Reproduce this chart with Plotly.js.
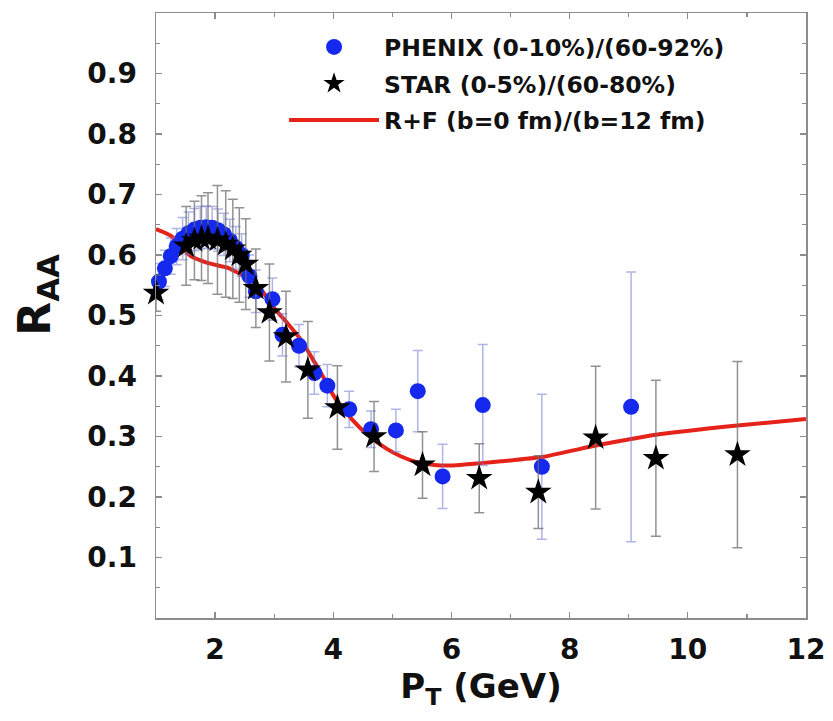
<!DOCTYPE html>
<html><head><meta charset="utf-8">
<script src="https://cdn.plot.ly/plotly-3.0.1.min.js"></script>
<style>html,body{margin:0;padding:0;background:#fff}#chart{width:833px;height:721px}</style>
</head><body><div id="chart"></div>
<script>
// PHENIX (0-10%)/(60-92%)
const phenixPt  = [1.05,1.15,1.25,1.35,1.45,1.55,1.65,1.75,1.85,1.95,2.05,2.15,2.25,2.35,2.45,2.58,2.69,2.97,3.14,3.42,3.68,3.90,4.27,4.64,5.06,5.43,5.85,6.53,7.53,9.04];
const phenixRaa = [0.556,0.578,0.598,0.614,0.627,0.636,0.642,0.645,0.646,0.645,0.641,0.634,0.624,0.612,0.600,0.565,0.540,0.527,0.468,0.450,0.405,0.384,0.345,0.312,0.310,0.375,0.234,0.352,0.250,0.349];
const phenixErr = [0.030,0.030,0.030,0.030,0.035,0.035,0.035,0.035,0.035,0.035,0.035,0.035,0.035,0.035,0.035,0.035,0.035,0.035,0.035,0.035,0.035,0.035,0.030,0.030,0.035,0.067,0.053,0.100,0.120,0.223];
// STAR (0-5%)/(60-80%)
const starPt  = [1.00,1.51,1.65,1.77,1.88,2.04,2.18,2.30,2.41,2.52,2.69,2.92,3.20,3.57,4.07,4.69,5.51,6.47,7.47,8.44,9.46,10.84];
const starRaa = [0.537,0.615,0.624,0.628,0.628,0.625,0.618,0.610,0.600,0.585,0.545,0.505,0.465,0.410,0.348,0.300,0.253,0.231,0.208,0.298,0.264,0.270];
const starErr = [0.030,0.065,0.065,0.070,0.075,0.090,0.088,0.082,0.078,0.075,0.065,0.080,0.075,0.080,0.069,0.058,0.055,0.057,0.060,0.118,0.129,0.154];
// R+F (b=0 fm)/(b=12 fm)
const modelPt  = [1.00,1.25,1.59,1.87,2.21,2.38,2.60,2.80,3.00,3.20,3.45,3.70,3.85,4.02,4.30,4.58,4.90,5.15,5.40,5.71,6.00,6.50,6.84,7.53,8.44,9.04,9.46,10.84,12.00];
const modelRaa = [0.643,0.632,0.598,0.587,0.579,0.571,0.560,0.540,0.512,0.490,0.460,0.420,0.395,0.365,0.330,0.303,0.280,0.267,0.258,0.253,0.252,0.256,0.259,0.266,0.285,0.296,0.303,0.318,0.329];

const xTickVals = [2,4,6,8,10,12];
const yTickVals = [0.1,0.2,0.3,0.4,0.5,0.6,0.7,0.8,0.9];
const yTickText = ['0.1','0.2','0.3','0.4','0.5','0.6','0.7','0.8','0.9'];

const FONT = 'DejaVu Sans, Liberation Sans, Arial, sans-serif';
const frame = '#8c8c8c';

const traces = [
  {
    x: modelPt, y: modelRaa, type: 'scatter', mode: 'lines',
    name: 'R+F (b=0 fm)/(b=12 fm)', legendrank: 3, legendgroup: 'c',
    line: {color: '#e5231b', width: 4, shape: 'spline', smoothing: 0.5}
  },
  {
    x: phenixPt, y: phenixRaa, type: 'scatter', mode: 'markers',
    name: 'PHENIX (0-10%)/(60-92%)', legendrank: 1, legendgroup: 'a', cliponaxis: false,
    marker: {color: '#1428ee', size: 16, symbol: 'circle'},
    error_y: {type: 'data', array: phenixErr, visible: true, color: 'rgba(110,120,210,0.55)', thickness: 1.5, width: 5}
  },
  {
    x: starPt, y: starRaa, type: 'scatter', mode: 'markers',
    name: 'STAR (0-5%)/(60-80%)', legendrank: 2, legendgroup: 'b', cliponaxis: false,
    marker: {color: '#000000', size: 20, symbol: 'star'},
    error_y: {type: 'data', array: starErr, visible: true, color: 'rgba(110,110,110,0.75)', thickness: 1.5, width: 5}
  }
];

const layout = {
  width: 833, height: 721,
  margin: {l: 156, r: 27, t: 13, b: 103},
  paper_bgcolor: '#ffffff', plot_bgcolor: '#ffffff',
  font: {family: FONT, color: '#111111'},
  showlegend: true,
  legend: {
    x: 0.197, y: 0.98, xanchor: 'left', yanchor: 'top',
    bgcolor: 'rgba(0,0,0,0)', borderwidth: 0,
    font: {family: FONT, size: 23.5, weight: 'bold', color: '#111'},
    tracegroupgap: 3, itemwidth: 90
  },
  xaxis: {
    range: [1, 12], tickvals: xTickVals, ticktext: xTickVals.map(String),
    showgrid: false, zeroline: false,
    showline: true, linecolor: frame, linewidth: 1.5, mirror: 'ticks',
    ticks: 'inside', ticklen: 6, tickcolor: frame, tickwidth: 1.2,
    minor: {dtick: 1, ticks: 'inside', ticklen: 4, tickcolor: frame},
    tickfont: {family: FONT, size: 28, weight: 'bold', color: '#111'},
    ticklabelstandoff: 6,
    title: {text: 'P<sub>T</sub> (GeV)', font: {family: FONT, size: 34, weight: 'bold', color: '#111'}, standoff: 2}
  },
  yaxis: {
    range: [0, 1.0], tickvals: yTickVals, ticktext: yTickText,
    showgrid: false, zeroline: false,
    showline: true, linecolor: frame, linewidth: 1.5, mirror: 'ticks',
    ticks: 'inside', ticklen: 6, tickcolor: frame, tickwidth: 1.2,
    minor: {dtick: 0.05, ticks: 'inside', ticklen: 4, tickcolor: frame},
    tickfont: {family: FONT, size: 28, weight: 'bold', color: '#111'},
    ticklabelstandoff: 12
  },
  annotations: [{
    text: 'R<sub>AA</sub>', xref: 'paper', yref: 'paper',
    x: -0.182, y: 0.534, xanchor: 'center', yanchor: 'middle',
    textangle: -90, showarrow: false,
    font: {family: FONT, size: 44, weight: 'bold', color: '#111'}
  }]
};

Plotly.newPlot('chart', traces, layout, {displayModeBar: false, staticPlot: true});
</script>
</body></html>
